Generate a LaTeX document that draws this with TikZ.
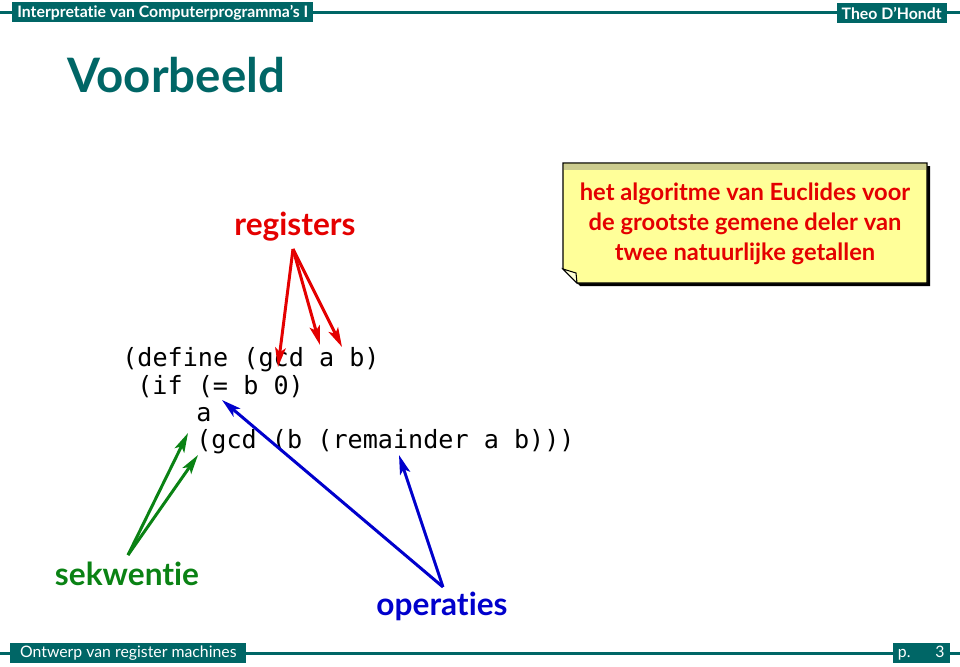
\documentclass[tikz,border=0pt]{standalone}
\usepackage{fontspec}
\setmainfont{Lato}[Ligatures={NoCommon}]
\setmonofont{DejaVu Sans Mono}
\usepackage{tikz}
\usetikzlibrary{positioning,arrows.meta}
\definecolor{kleurkop}{RGB}{0,102,102}
\definecolor{kleurrood}{RGB}{228,0,0}
\definecolor{kleurgroen}{RGB}{10,130,20}
\definecolor{kleurblauw}{RGB}{0,0,204}
\definecolor{kleurgeel}{RGB}{255,255,153}
\tikzset{balk/.style = {fill=kleurkop,text=white,inner xsep=1mm,inner ysep=0pt,minimum height=4mm,font=\bfseries\fontsize{9}{10}\selectfont},
  code/.style = {anchor=base west,inner sep=0pt,font=\ttfamily\fontsize{14.3}{16}\selectfont},
  etiket/.style = {anchor=base,inner sep=0pt,font=\bfseries\fontsize{18}{20}\selectfont},
  pijl/.style = {line width=1.7pt,-{Stealth[length=11pt,width=6pt,inset=2.5pt]}}}

\begin{document}
\begin{tikzpicture}[x=0.2mm,y=-0.2mm]
  \useasboundingbox (0,0) rectangle (960,666);
  % kop en voet
  \draw[kleurkop,line width=1.7pt] (0,12.5) -- (960,12.5);
  \draw[kleurkop,line width=1.7pt] (0,653) -- (960,653);
  \node[balk,anchor=north west,minimum width=60mm] (kopl) at (12,2) {Interpretatie van Computerprogramma’s I};
  \node[balk,anchor=north east,minimum width=21.4mm] (kopr) at (947,3) {Theo D’Hondt};
  \node[balk,anchor=south west,minimum width=47.2mm,font=\fontsize{9}{10}\selectfont] (voetl) at (10,663) {Ontwerp van register machines};
  \node[balk,anchor=south east,minimum width=11mm,font=\fontsize{9}{10}\selectfont] (voetr) at (950,663) {p.\hspace{5mm}3};
  \node[anchor=base west,inner sep=0pt,text=kleurkop,font=\bfseries\fontsize{27}{30}\selectfont] (titel) at (67,92) {Voorbeeld};

  % notitie
  \fill[black] (566,166) -- (930,166) -- (930,286) -- (580,286) -- (566,272) -- cycle;
  \filldraw[fill=kleurgeel,draw=black,line width=0.8pt] (563,163) -- (927,163) -- (927,283) -- (577,283) -- (563,269) -- cycle;
  \fill[kleurgeel!60!gray] (563.8,163.8) rectangle (926.2,170);
  \filldraw[fill=kleurgeel!40,draw=black,line width=0.6pt] (563,269) -- (576,273) -- (577,283) -- cycle;
  \node[align=center,text=kleurrood,font=\bfseries\fontsize{13.5}{17}\selectfont] (notitie) at (745,224) {het algoritme van Euclides voor\\de grootste gemene deler van\\twee natuurlijke getallen};

  \node[etiket,text=kleurrood] (reg) at (295,235) {registers};
  \node[etiket,text=kleurgroen] (sek) at (127,585) {sekwentie};
  \node[etiket,text=kleurblauw] (ops) at (442,615) {operaties};

  \node[code] (r1) at (122,366) {(define (gcd a b)};
  \node[code] (r2) at (137,394) {(if (= b 0)};
  \node[code] (r3) at (196,421) {a};
  \node[code] (r4) at (196,448) {(gcd (b (remainder a b)))};

  \coordinate (regvoet) at (293,249);
  \coordinate (naargcd) at (278,367);
  \coordinate (naara) at (320,345);
  \coordinate (naarb) at (342,347);
  \foreach \doel in {naargcd,naara,naarb}
    \draw[pijl,kleurrood] (regvoet) -- (\doel);

  \coordinate (sekvoet) at (128,555);
  \coordinate (naarr3) at (188,433);
  \coordinate (naarr4) at (198,455);
  \foreach \doel in {naarr3,naarr4}
    \draw[pijl,kleurgroen] (sekvoet) -- (\doel);

  \coordinate (opsvoet) at (443,587);
  \coordinate (naarif) at (222,400);
  \coordinate (naarrem) at (399,455);
  \foreach \doel in {naarif,naarrem}
    \draw[pijl,kleurblauw] (opsvoet) -- (\doel);
\end{tikzpicture}
\end{document}
